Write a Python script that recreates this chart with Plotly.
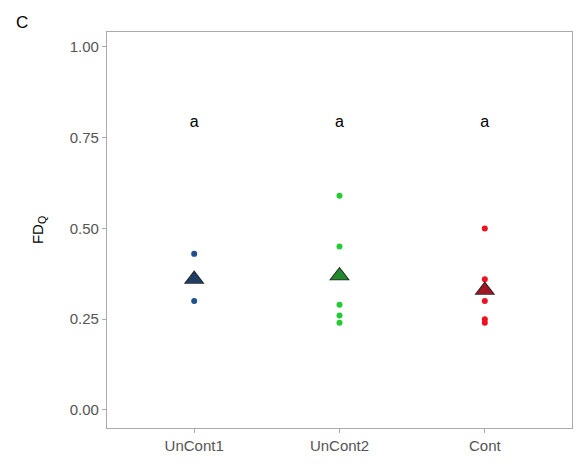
import plotly.graph_objects as go

categories = ["UnCont1", "UnCont2", "Cont"]
colors = ["#1f4f8f", "#22cc33", "#ee1122"]
values = [
    [0.43, 0.30],
    [0.59, 0.45, 0.29, 0.26, 0.24],
    [0.50, 0.36, 0.33, 0.30, 0.25, 0.24],
]
means = [0.36, 0.37, 0.33]
letters = ["a", "a", "a"]
letter_y = 0.79
yticks = [0.0, 0.25, 0.5, 0.75, 1.0]
ytick_text = ["0.00", "0.25", "0.50", "0.75", "1.00"]

FONT = "Liberation Sans, Arial"
fig = go.Figure()
for i, (cat, col) in enumerate(zip(categories, colors)):
    xpos = i + 1
    fig.add_trace(go.Scatter(
        x=[xpos] * len(values[i]), y=values[i], mode="markers",
        marker=dict(size=6, color=col), showlegend=False, hoverinfo="skip"))
    fig.add_trace(go.Scatter(
        x=[xpos], y=[means[i]], mode="markers",
        marker=dict(size=18, color="#222222", symbol="triangle-up", line=dict(width=0)),
        showlegend=False, hoverinfo="skip"))
    fig.add_trace(go.Scatter(
        x=[xpos], y=[means[i]], mode="markers",
        marker=dict(size=15, color=col, symbol="triangle-up", line=dict(width=0)),
        opacity=0.6, showlegend=False, hoverinfo="skip"))
    fig.add_trace(go.Scatter(
        x=[xpos], y=[letter_y], mode="text", text=[letters[i]],
        textfont=dict(size=16, color="black", family=FONT),
        showlegend=False, hoverinfo="skip"))

axis_common = dict(showgrid=False, zeroline=False, showline=True, mirror=True,
                   linecolor="#aaaaaa", linewidth=1.2, ticks="outside",
                   tickcolor="#aaaaaa", ticklen=4,
                   tickfont=dict(size=15, color="#555555", family=FONT))

fig.update_layout(
    width=576, height=464,
    margin=dict(l=107, r=4, t=32, b=36),
    plot_bgcolor="white", paper_bgcolor="white",
    xaxis=dict(range=[0.4, 3.6], tickvals=[1, 2, 3], ticktext=categories, **axis_common),
    yaxis=dict(range=[-0.0496, 1.041], tickvals=yticks, ticktext=ytick_text,
               title=dict(text="FD<sub>Q</sub>", standoff=22,
                          font=dict(size=15, color="black", family=FONT)),
               **axis_common),
)
fig.add_annotation(text="C", xref="paper", yref="paper", x=-0.183, y=1.025,
                   xanchor="center", yanchor="middle", showarrow=False,
                   font=dict(size=17, color="black", family=FONT))

fig.write_html("out.html")
